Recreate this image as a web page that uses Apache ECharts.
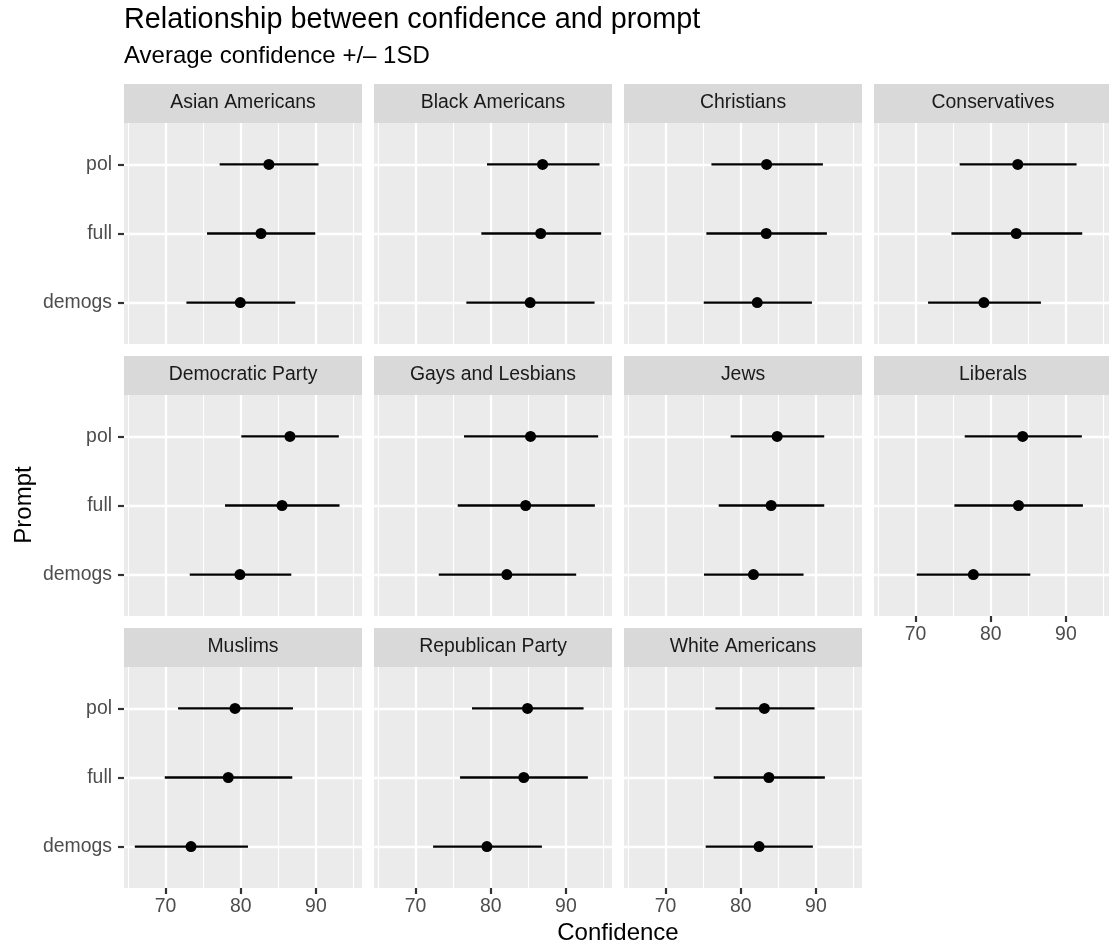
<!DOCTYPE html>
<html><head><meta charset="utf-8">
<script src="https://cdn.jsdelivr.net/npm/echarts@6/dist/echarts.min.js"></script>
<style>html,body{margin:0;padding:0;background:#fff}#c{width:1109px;height:948px}</style>
</head><body><div id="c"></div>
<script>
// ---- data ----
const groups = ['Asian Americans','Black Americans','Christians','Conservatives','Democratic Party','Gays and Lesbians','Jews','Liberals','Muslims','Republican Party','White Americans'];
const prompts = ['demogs','full','pol'];
const xTicks = [70, 80, 90];
const xMinorTicks = [65, 75, 85, 95];
const meanDemogs = [79.95, 85.25, 82.2, 79.1, 79.9, 82.15, 81.7, 77.7, 73.4, 79.5, 82.45];
const lowDemogs  = [72.79, 76.77, 75.09, 71.68, 73.23, 73.10, 75.13, 70.18, 65.93, 72.35, 75.35];
const highDemogs = [87.26, 93.81, 89.47, 86.68, 86.73, 91.37, 88.36, 85.27, 80.97, 86.81, 89.60];
const meanFull = [82.7, 86.65, 83.4, 83.4, 85.5, 84.65, 84.05, 83.7, 78.35, 84.4, 83.75];
const lowFull  = [75.53, 78.76, 75.44, 74.78, 77.92, 75.62, 77.08, 75.18, 69.91, 75.93, 76.42];
const highFull = [89.91, 94.69, 91.46, 92.17, 93.14, 93.85, 91.11, 92.26, 86.86, 92.92, 91.19];
const meanPol = [83.75, 86.9, 83.45, 83.6, 86.55, 85.3, 84.85, 84.25, 79.25, 84.9, 83.15];
const lowPol  = [77.21, 79.51, 76.11, 75.88, 80.09, 76.46, 78.67, 76.55, 71.68, 77.52, 76.64];
const highPol = [90.35, 94.47, 90.93, 91.42, 93.05, 94.29, 91.11, 92.12, 86.95, 92.35, 89.82];

// ---- layout / style ----
const FONT = '"Liberation Sans", Arial, Helvetica, sans-serif';
const colLeft = 124, colStep = 250, panelW = 238;
const rowTop = 123, rowStep = 272, panelH = 221, stripH = 39;
const nCols = 4;
const means = [meanDemogs, meanFull, meanPol];
const lows = [lowDemogs, lowFull, lowPol];
const highs = [highDemogs, highFull, highPol];

const allLow = [].concat(lowDemogs, lowFull, lowPol);
const allHigh = [].concat(highDemogs, highFull, highPol);
const dMin = Math.min(...allLow), dMax = Math.max(...allHigh);
const pad = (dMax - dMin) * 0.05;
const xMin = dMin - pad, xMax = dMax + pad;

const grids = [], xAxes = [], yAxes = [], series = [], graphics = [];
groups.forEach((g, i) => {
  const col = i % nCols, row = Math.floor(i / nCols);
  const left = colLeft + col * colStep;
  const top = rowTop + row * rowStep;
  const showX = (i + nCols) >= groups.length;
  const showY = col === 0;
  grids.push({left: left, top: top, width: panelW, height: panelH, show: true,
    backgroundColor: '#EBEBEB', borderWidth: 0, containLabel: false, outerBoundsMode: 'none'});
  xAxes.push({type: 'value', gridIndex: i, min: xMin, max: xMax, position: 'bottom',
    axisLine: {show: false},
    axisTick: {show: showX, customValues: xTicks, length: 6, lineStyle: {color: '#333333', width: 2.2}},
    axisLabel: {show: showX, customValues: xTicks, margin: 9, color: '#4D4D4D', fontSize: 19.4, fontFamily: FONT},
    splitLine: {show: true, lineStyle: {color: '#FFFFFF', width: 2.3}}});
  xAxes.push({type: 'value', gridIndex: i, min: xMin, max: xMax, position: 'top',
    axisLine: {show: false},
    axisTick: {show: false, customValues: xMinorTicks},
    axisLabel: {show: false, customValues: xMinorTicks},
    splitLine: {show: true, lineStyle: {color: '#FFFFFF', width: 1.15}}});
  yAxes.push({type: 'value', gridIndex: i, min: 0.4, max: 3.6,
    axisLine: {show: false},
    axisTick: {show: showY, customValues: [1, 2, 3], length: 6, lineStyle: {color: '#333333', width: 2.2}},
    axisLabel: {show: showY, customValues: [1, 2, 3], margin: 12, color: '#4D4D4D', fontSize: 19.4, fontFamily: FONT,
      formatter: v => prompts[Math.round(v) - 1]},
    splitLine: {show: true, lineStyle: {color: '#FFFFFF', width: 2.3}}});
  series.push({type: 'custom', xAxisIndex: 2 * i, yAxisIndex: i, silent: true,
    encode: {x: [0, 1], y: 2},
    data: prompts.map((p, k) => [lows[k][i], highs[k][i], k + 1]),
    renderItem: (params, api) => {
      const a = api.coord([api.value(0), api.value(2)]);
      const b = api.coord([api.value(1), api.value(2)]);
      return {type: 'line', shape: {x1: a[0], y1: a[1], x2: b[0], y2: b[1]},
        style: {stroke: '#000000', lineWidth: 2.3}};
    }});
  series.push({type: 'scatter', xAxisIndex: 2 * i, yAxisIndex: i, silent: true,
    symbol: 'circle', symbolSize: 11, itemStyle: {color: '#000000', opacity: 1},
    data: prompts.map((p, k) => [means[k][i], k + 1])});
  graphics.push({type: 'rect', shape: {x: left, y: top - stripH, width: panelW, height: stripH},
    style: {fill: '#D9D9D9'}, silent: true});
  graphics.push({type: 'text', x: left + panelW / 2, y: top - stripH + 18.5, silent: true,
    style: {text: g, fill: '#1A1A1A', font: '19.4px ' + FONT, align: 'center', verticalAlign: 'middle'}});
});

graphics.push({type: 'text', x: 124, y: 20, silent: true,
  style: {text: 'Relationship between confidence and prompt', fill: '#000000', font: '28.8px ' + FONT, align: 'left', verticalAlign: 'middle'}});
graphics.push({type: 'text', x: 124, y: 56.3, silent: true,
  style: {text: 'Average confidence +/\u2013 1SD', fill: '#000000', font: '24px ' + FONT, align: 'left', verticalAlign: 'middle'}});
graphics.push({type: 'text', x: 618, y: 933.5, silent: true,
  style: {text: 'Confidence', fill: '#000000', font: '24px ' + FONT, align: 'center', verticalAlign: 'middle'}});
graphics.push({type: 'text', x: 24, y: 505, rotation: Math.PI / 2, silent: true,
  style: {text: 'Prompt', fill: '#000000', font: '24px ' + FONT, align: 'center', verticalAlign: 'middle'}});

const chart = echarts.init(document.getElementById('c'), null, {renderer: 'canvas'});
chart.setOption({
  animation: false,
  backgroundColor: '#FFFFFF',
  textStyle: {fontFamily: FONT},
  grid: grids, xAxis: xAxes, yAxis: yAxes, series: series,
  graphic: {elements: graphics}
});
</script></body></html>
